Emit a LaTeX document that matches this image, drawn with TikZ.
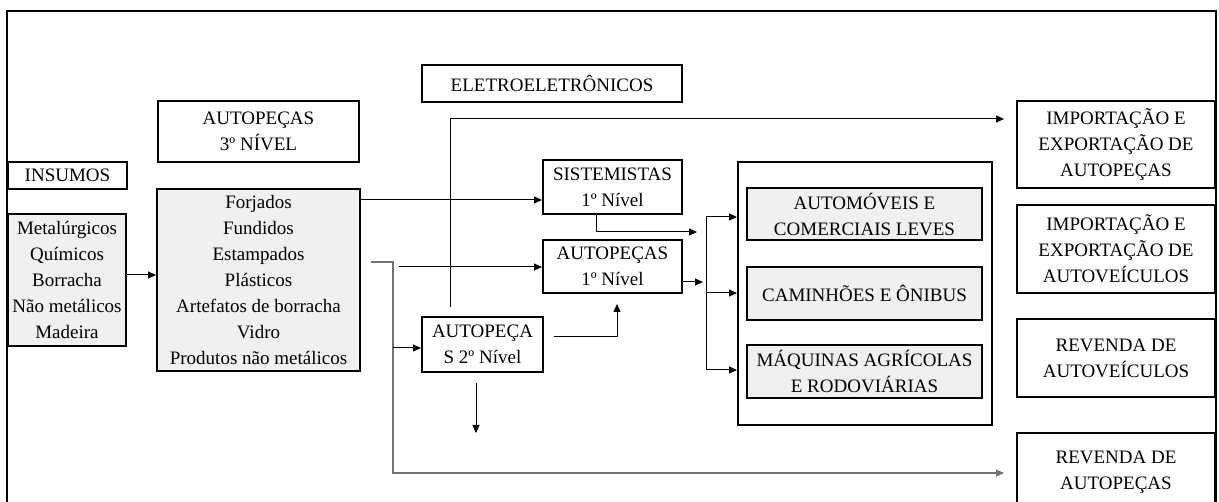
\documentclass[tikz,border=0pt]{standalone}
\usepackage{fontspec}
\setmainfont{Liberation Serif}
\usetikzlibrary{arrows.meta}
\begin{document}
\begin{tikzpicture}[x=1pt,y=-1pt,
		caixa/.style={draw,line width=2pt,inner sep=0pt,align=center,font=\fontsize{19}{26}\selectfont},
		cinza/.style={caixa,fill=black!6},
		seta/.style={line width=1pt,-{Triangle[length=8pt,width=7pt]}},
		linha/.style={line width=1pt},
		sombra/.style={draw=black!55,line width=1.2pt}]
		\useasboundingbox (0,0) rectangle (1219,502);
		\clip (0,0) rectangle (1219,502);
		\draw[line width=2pt] (7,520) -- (7,11) -- (1216,11) -- (1216,520);
		\node[caixa,minimum width=260pt,minimum height=37pt] (eletro) at (552,83.5) {ELETROELETRÔNICOS};
		\node[caixa,minimum width=201pt,minimum height=61pt] (pecas3) at (258.5,131.5) {AUTOPEÇAS\\3º NÍVEL};
		\node[caixa,minimum width=119pt,minimum height=27pt] (insumos) at (67.5,175.5) {INSUMOS};
		\node[cinza,minimum width=118pt,minimum height=132pt] (materiais) at (67,280) {Metalúrgicos\\Químicos\\Borracha\\Não metálicos\\Madeira};
		\node[cinza,minimum width=203pt,minimum height=182pt] (pecas3lista) at (258.5,280) {Forjados\\Fundidos\\Estampados\\Plásticos\\Artefatos de borracha\\Vidro\\Produtos não metálicos};
		\node[caixa,minimum width=139pt,minimum height=54pt] (sist) at (612.5,187) {SISTEMISTAS\\1º Nível};
		\node[caixa,minimum width=139pt,minimum height=53pt] (pecas1) at (612.5,266.5) {AUTOPEÇAS\\1º Nível};
		\node[caixa,minimum width=121pt,minimum height=55pt] (pecas2) at (482.5,344.5) {AUTOPEÇA\\S 2º Nível};
		\node[caixa,minimum width=254pt,minimum height=263pt] (montadoras) at (865,293.5) {};
		\node[cinza,minimum width=235pt,minimum height=52pt] (auto) at (864.5,214) {AUTOMÓVEIS E\\COMERCIAIS LEVES};
		\node[cinza,minimum width=235pt,minimum height=53pt] (caminhoes) at (864.5,293.5) {CAMINHÕES E ÔNIBUS};
		\node[cinza,minimum width=235pt,minimum height=53pt] (maquinas) at (864.5,371.5) {MÁQUINAS AGRÍCOLAS\\E RODOVIÁRIAS};
		\node[caixa,minimum width=198pt,minimum height=87pt] (imppecas) at (1116,144.5) {IMPORTAÇÃO E\\EXPORTAÇÃO DE\\AUTOPEÇAS};
		\node[caixa,minimum width=198pt,minimum height=88pt] (impveic) at (1116,249) {IMPORTAÇÃO E\\EXPORTAÇÃO DE\\AUTOVEÍCULOS};
		\node[caixa,minimum width=198pt,minimum height=78pt] (revveic) at (1116,358) {REVENDA DE\\AUTOVEÍCULOS};
		\node[caixa,minimum width=198pt,minimum height=78pt] (revpecas) at (1116,472) {REVENDA DE\\AUTOPEÇAS};
		\coordinate (dobra) at (393,262);
		\coordinate (saida) at (399,267);
		\coordinate (baixo) at (476,433);
		\coordinate (ramo) at (706,293);
		\draw[seta] (materiais.east |- 0,275) -- (pecas3lista.west |- 0,275);
		\draw[seta] (pecas3lista.east |- 0,200) -- (sist.west |- 0,200);
		\draw[seta,sombra] ([xshift=10pt]pecas3lista.east |- dobra) -- (dobra) -- (dobra |- 0,473) -- ([xshift=-12pt]revpecas.west |- 0,473);
		\draw[seta] (saida) -- (pecas1.west |- saida);
		\draw[seta] (dobra |- 0,348) -- (pecas2.west |- 0,348);
		\draw[seta,shorten >=10pt] ([xshift=10pt]pecas2.east |- 0,337) -| ([xshift=4.5pt]pecas1.south);
		\draw[seta,shorten <=9pt,shorten >=12pt] (pecas2.north -| 450,0) |- (imppecas.west |- 0,119);
		\draw[seta,shorten <=10pt] (pecas2.south -| baixo) -- (baixo);
		\draw[seta] (sist.south -| 596,0) |- (697,232);
		\draw[seta] (pecas1.east |- 0,282) -- (703,282);
		\draw[linha] (ramo |- 0,217) -- (ramo |- 0,370);
		\draw[seta] (ramo |- 0,217) -- (montadoras.west |- 0,217);
		\draw[seta] (ramo) -- (montadoras.west |- ramo);
		\draw[seta] (ramo |- 0,370) -- (montadoras.west |- 0,370);
	\end{tikzpicture}
\end{document}
